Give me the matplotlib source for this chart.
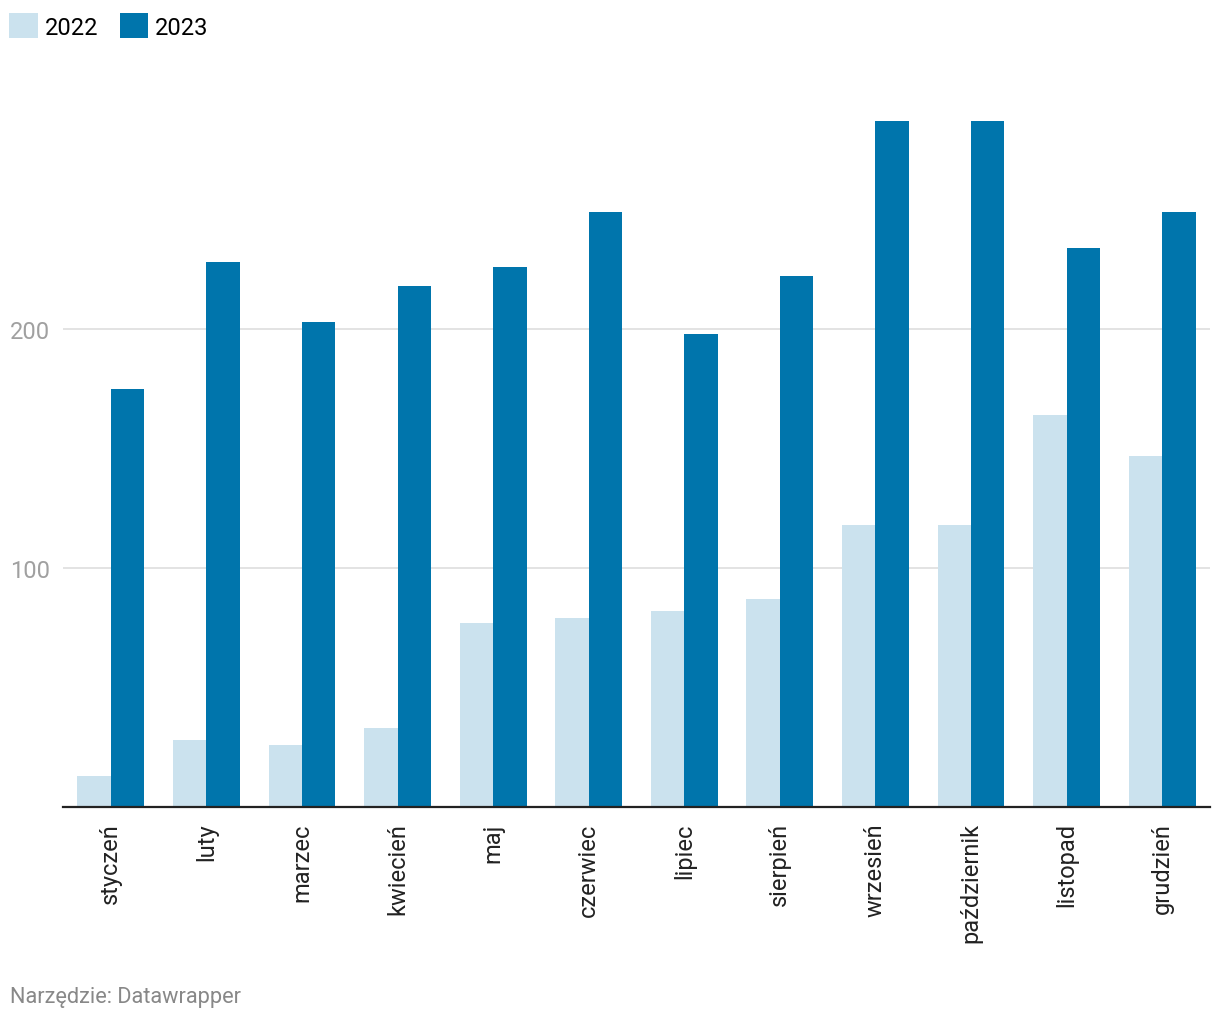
import numpy as np
import matplotlib
matplotlib.use('Agg')
import matplotlib.pyplot as plt

plt.rcParams['font.family'] = ['Roboto', 'DejaVu Sans']

months = ['styczeń', 'luty', 'marzec', 'kwiecień', 'maj', 'czerwiec',
          'lipiec', 'sierpień', 'wrzesień', 'październik', 'listopad', 'grudzień']
vals_2022 = [13, 28, 26, 33, 77, 79, 82, 87, 118, 118, 164, 147]
vals_2023 = [175, 228, 203, 218, 226, 249, 198, 222, 287, 287, 234, 249]
years = ['2022', '2023']
colors = ['#cbe2ee', '#0075ac']

fig = plt.figure(figsize=(12.2, 10.2), dpi=100)
ax = fig.add_axes([63/1220, 212/1020, 1147/1220, 717/1020])

x = np.arange(len(months))
w = 0.35
ax.bar(x - w/2, vals_2022, w, color=colors[0], label=years[0], zorder=2)
ax.bar(x + w/2, vals_2023, w, color=colors[1], label=years[1], zorder=2)

ax.set_xlim(-0.5, len(months) - 0.5)
ax.set_ylim(0, 300)
ax.set_yticks([100, 200])
ax.yaxis.grid(True, color='#e3e3e3', linewidth=1.4, zorder=0)
ax.tick_params(axis='y', length=0, pad=9.5, labelsize=17, labelcolor='#a0a0a0')
ax.set_xticks(x)
ax.set_xticklabels(months, rotation=90, fontsize=17, color='#222222')
ax.tick_params(axis='x', length=0, pad=11)

for s in ['top', 'right', 'left']:
    ax.spines[s].set_visible(False)
ax.spines['bottom'].set_color('#222222')
ax.spines['bottom'].set_linewidth(1.6)
ax.spines['bottom'].set_zorder(3)

fig.legend(loc='upper left', bbox_to_anchor=(0.0, 1 - 5/1020), ncol=2, frameon=False,
           fontsize=17, handlelength=1.2, handleheight=1.2, handletextpad=0.3,
           columnspacing=0.9, borderaxespad=0)

fig.text(10/1220, 1 - 998/1020, 'Narzędzie: Datawrapper', fontsize=15.7,
         color='#888888', va='center', ha='left')

fig.savefig('out.png', dpi=100)
